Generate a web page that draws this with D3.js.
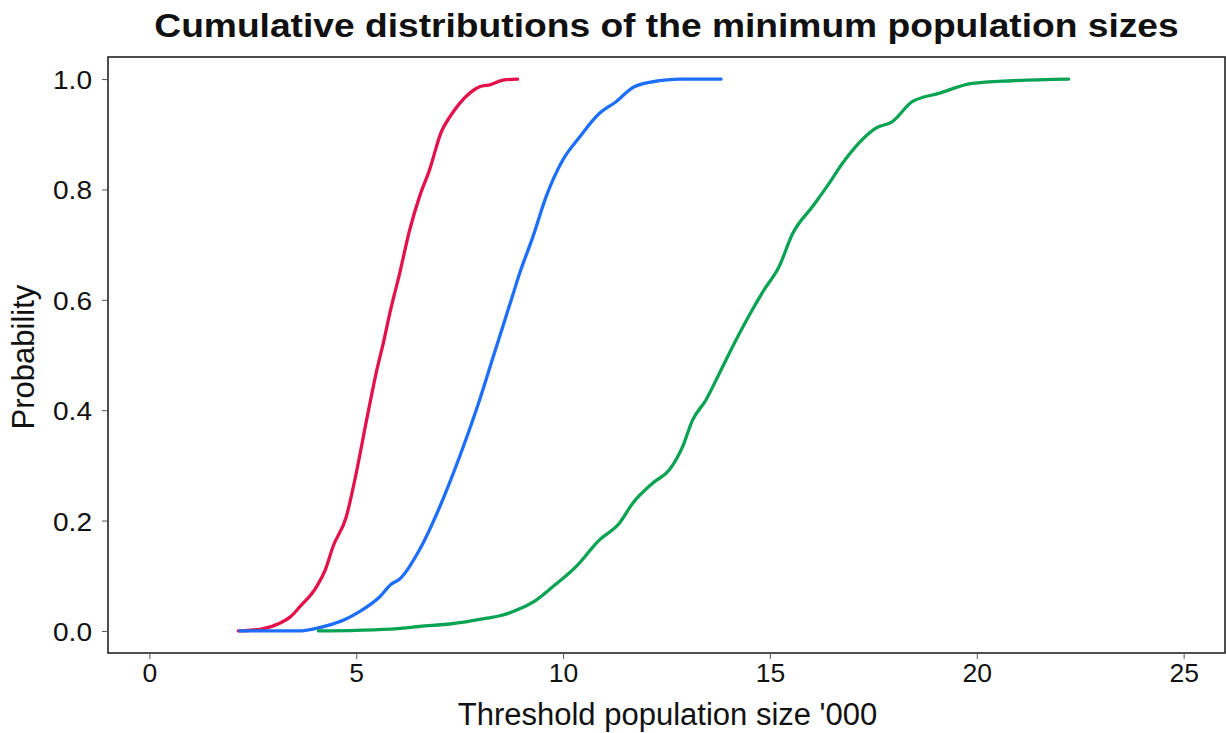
<!DOCTYPE html>
<html>
<head>
<meta charset="utf-8">
<script src="https://cdn.jsdelivr.net/npm/d3@7"></script>
<style>
  html, body { margin: 0; padding: 0; background: #ffffff; }
  svg { display: block; }
  text { font-family: "Liberation Sans", Arial, Helvetica, sans-serif; fill: #111; }
</style>
</head>
<body>
<svg id="chart" width="1226" height="733"></svg>
<script>
// Threshold population size ('000) and cumulative probability for each scenario
const redX   = [2.15, 2.67, 3.15, 3.40, 3.64, 4.04, 4.25, 4.44, 4.76, 5.00, 5.25, 5.49, 5.65, 5.81, 6.05, 6.29, 6.53, 6.77, 7.06, 7.25, 7.50, 7.75, 7.98, 8.25, 8.55, 8.90];
const redY   = [0.000, 0.003, 0.014, 0.025, 0.044, 0.080, 0.110, 0.153, 0.207, 0.286, 0.382, 0.470, 0.520, 0.575, 0.648, 0.726, 0.787, 0.835, 0.905, 0.930, 0.956, 0.975, 0.986, 0.990, 0.998, 1.000];

const blueX  = [2.19, 3.00, 3.64, 4.00, 4.36, 4.70, 5.08, 5.57, 5.85, 6.05, 6.53, 7.02, 7.50, 7.98, 8.30, 8.79, 8.95, 9.27, 9.59, 9.99, 10.40, 10.88, 11.28, 11.72, 12.33, 12.81, 13.82];
const blueY  = [0.000, 0.000, 0.000, 0.004, 0.011, 0.020, 0.035, 0.062, 0.085, 0.094, 0.147, 0.225, 0.316, 0.418, 0.494, 0.610, 0.648, 0.714, 0.787, 0.853, 0.895, 0.938, 0.959, 0.986, 0.997, 1.000, 1.000];

const greenX = [4.09, 5.00, 6.00, 6.53, 7.30, 8.14, 8.50, 8.95, 9.35, 9.75, 10.32, 10.88, 11.36, 11.68, 12.17, 12.57, 12.89, 13.13, 13.45, 13.78, 14.18, 14.50, 14.85, 15.22, 15.55, 16.03, 16.43, 16.75, 17.15, 17.56, 17.96, 18.44, 19.08, 19.89, 20.86, 22.22];
const greenY = [0.000, 0.001, 0.004, 0.008, 0.013, 0.023, 0.028, 0.040, 0.056, 0.080, 0.117, 0.165, 0.195, 0.231, 0.268, 0.292, 0.334, 0.382, 0.418, 0.467, 0.527, 0.572, 0.617, 0.660, 0.720, 0.769, 0.811, 0.847, 0.884, 0.911, 0.923, 0.959, 0.974, 0.992, 0.997, 1.000];

const xTicks = [0, 5, 10, 15, 20, 25];
const yTicks = [0, 0.2, 0.4, 0.6, 0.8, 1.0];

const titleText = "Cumulative distributions of the minimum population sizes";
const xLabel = "Threshold population size '000";
const yLabel = "Probability";

const series = [
  { xs: redX,   ys: redY,   color: "#e3124b" },
  { xs: blueX,  ys: blueY,  color: "#1d6ffb" },
  { xs: greenX, ys: greenY, color: "#0aa354" }
];

// Plot frame
const frame = { left: 108, right: 1225, top: 57, bottom: 653 };

const svg = d3.select("#chart");

const x = d3.scaleLinear().domain([-1, 26]).range([frame.left, frame.right]);
const y = d3.scaleLinear().domain([-0.04, 1.04]).range([frame.bottom, frame.top]);

// Horizontal stretch applied to text around its anchor point
function stretch(sel, sx) {
  sel.each(function () {
    const t = d3.select(this);
    const ax = +t.attr("x") || 0, ay = +t.attr("y") || 0;
    t.attr("transform", `translate(${ax},${ay}) scale(${sx},1) translate(${-ax},${-ay})`);
  });
}

// Box around the plotting region
svg.append("rect")
  .attr("x", frame.left).attr("y", frame.top)
  .attr("width", frame.right - frame.left).attr("height", frame.bottom - frame.top)
  .attr("fill", "none").attr("stroke", "#222").attr("stroke-width", 1.6);

// Axes
const xAxis = d3.axisBottom(x).tickValues(xTicks).tickSize(6).tickPadding(4).tickFormat(d3.format("d"));
const yAxis = d3.axisLeft(y).tickValues(yTicks).tickSize(6).tickPadding(10).tickFormat(d3.format(".1f"));

const gx = svg.append("g").attr("transform", `translate(0,${frame.bottom})`).call(xAxis);
const gy = svg.append("g").attr("transform", `translate(${frame.left},0)`).call(yAxis);

[gx, gy].forEach(g => {
  g.select(".domain").remove();
  g.selectAll(".tick line").attr("stroke", "#555").attr("stroke-width", 1);
  g.selectAll(".tick text")
    .attr("fill", "#111")
    .style("font-size", "26.5px")
    .style("font-family", "'Liberation Sans', Arial, sans-serif");
});
gx.selectAll(".tick text").attr("dy", "0.71em");
gy.selectAll(".tick text").attr("dy", "0.36em");
stretch(gy.selectAll(".tick text"), 1.06);

// Cumulative distribution curves
const line = d3.line()
  .x(d => x(d[0]))
  .y(d => y(d[1]))
  .curve(d3.curveMonotoneX);
svg.append("g")
  .selectAll("path")
  .data(series)
  .join("path")
  .attr("d", s => line(d3.zip(s.xs, s.ys)))
  .attr("fill", "none")
  .attr("stroke", s => s.color)
  .attr("stroke-width", 3.3)
  .attr("stroke-linejoin", "round")
  .attr("stroke-linecap", "round");

// Title
const cx = (frame.left + frame.right) / 2;
const title = svg.append("text")
  .attr("x", cx).attr("y", 37)
  .attr("text-anchor", "middle")
  .style("font-size", "32.5px")
  .style("font-weight", "bold")
  .text(titleText);
stretch(title, 1025 / title.node().getComputedTextLength());

// Axis titles
svg.append("text")
  .attr("x", cx + 1).attr("y", 725)
  .attr("text-anchor", "middle")
  .style("font-size", "31px")
  .text(xLabel);

svg.append("text")
  .attr("transform", `translate(34,357) rotate(-90)`)
  .attr("text-anchor", "middle")
  .style("font-size", "31px")
  .text(yLabel);
</script>
</body>
</html>
